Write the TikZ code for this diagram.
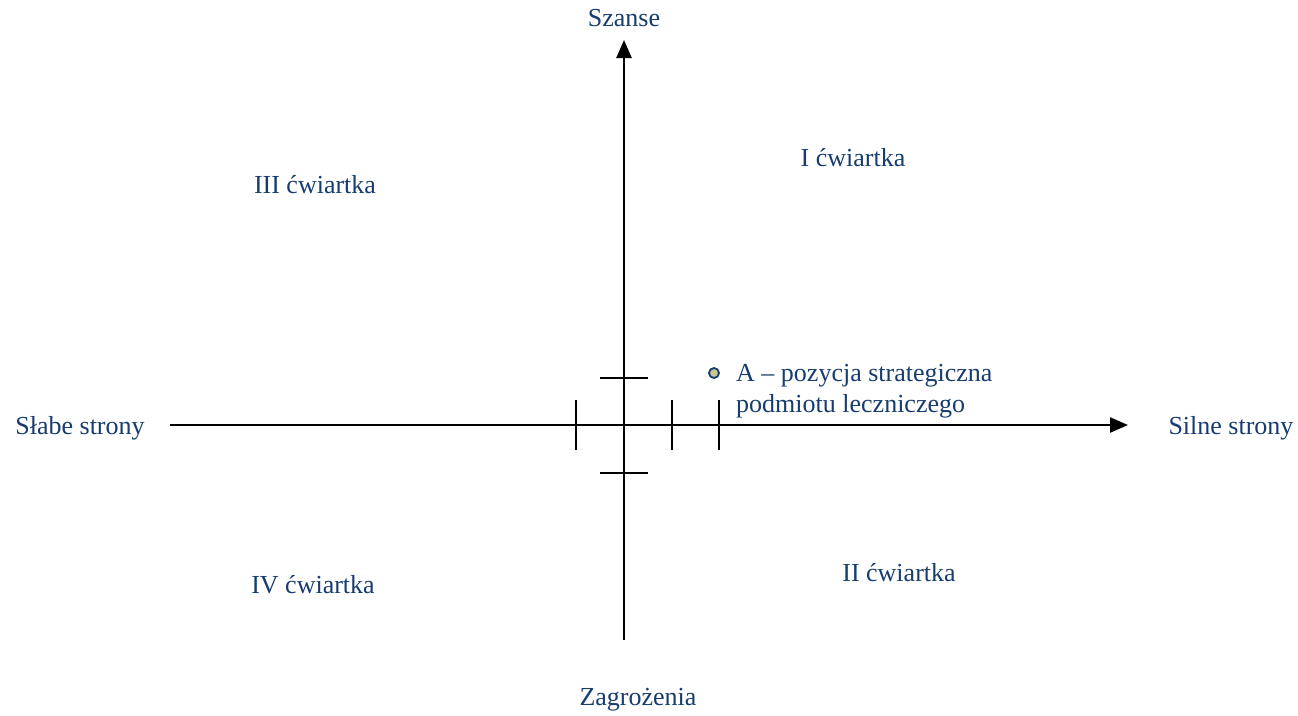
\documentclass[tikz,border=0pt]{standalone}
\usepackage{fontspec}
\setmainfont{Liberation Serif}
\usetikzlibrary{arrows.meta}
\definecolor{txtblue}{RGB}{23,60,110}
\definecolor{dotfill}{RGB}{200,200,150}
\begin{document}
\begin{tikzpicture}[x=1pt,y=-1pt,
  lbl/.style={text=txtblue,font=\fontsize{26}{31}\selectfont,inner sep=0pt},
  axis/.style={line width=2.4pt,-{Triangle[length=18pt,width=15pt]}},
  tick/.style={line width=2pt}]
\useasboundingbox (0,0) rectangle (1298,715);
% axes
\coordinate (xl) at (170,425);
\coordinate (xr) at (1128,425);
\coordinate (yb) at (624,640);
\coordinate (yt) at (624,40);
\draw[axis] (xl) -- (xr);
\draw[axis] (yb) -- (yt);
% ticks on horizontal axis
\foreach \x/\n in {576/h1,672/h2,719/h3}{
  \coordinate (\n a) at (\x,400);
  \coordinate (\n b) at (\x,450);
  \draw[tick] (\n a) -- (\n b);
}
% ticks on vertical axis
\foreach \y/\n in {378/v1,473/v2}{
  \coordinate (\n a) at (600,\y);
  \coordinate (\n b) at (648,\y);
  \draw[tick] (\n a) -- (\n b);
}
% point A
\node[circle,draw=txtblue,fill=dotfill,line width=1.8pt,minimum size=10pt,inner sep=0pt] (dot) at (714,373) {};
\node[lbl,anchor=north west,align=left] (A) at (736,364) {A – pozycja strategiczna\\podmiotu leczniczego};
% labels
\node[lbl] (sz) at (624,18) {Szanse};
\node[lbl] (zg) at (638,700) {Zagrożenia};
\node[lbl] (sl) at (80,428) {Słabe strony};
\node[lbl] (si) at (1231,428) {Silne strony};
\node[lbl] (q1) at (853,158) {I ćwiartka};
\node[lbl] (q3) at (315,185) {III ćwiartka};
\node[lbl] (q4) at (313,585) {IV ćwiartka};
\node[lbl] (q2) at (899,573) {II ćwiartka};
\end{tikzpicture}
\end{document}
